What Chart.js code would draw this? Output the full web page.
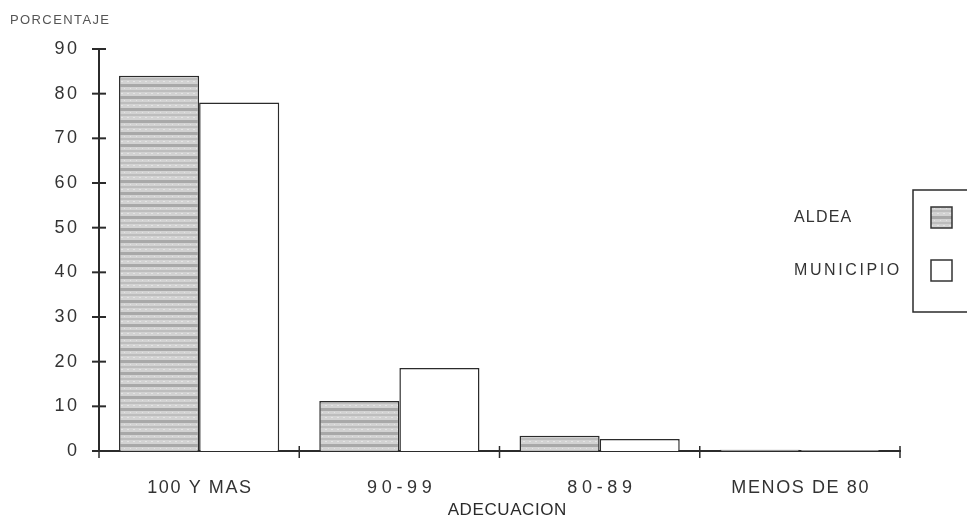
<!DOCTYPE html>
<html><head><meta charset="utf-8">
<script src="https://cdn.jsdelivr.net/npm/chart.js@4"></script>
<style>html,body{margin:0;padding:0;background:#fff}#wrap{width:967px;height:519px;position:relative}</style>
</head><body><div id="wrap"><canvas id="c" width="967" height="519"></canvas></div>
<script>
const categories = ["100 Y MAS", "90-99", "80-89", "MENOS DE 80"];
const aldea = [84, 11.2, 3.4, 0.3];
const municipio = [78, 18.6, 2.7, 0.2];
const seriesNames = ["ALDEA", "MUNICIPIO"];
const yTicks = [0, 10, 20, 30, 40, 50, 60, 70, 80, 90];
const yTitle = "PORCENTAJE";
const xTitle = "ADECUACION";

function stripePattern(){
  const p = document.createElement('canvas'); p.width = 6; p.height = 12;
  const g = p.getContext('2d');
  g.fillStyle = '#d2d2d2'; g.fillRect(0,0,6,12);
  g.fillStyle = '#a8a8a8'; g.fillRect(0,0,6,3);
  g.fillStyle = '#bdbdbd'; g.fillRect(0,6,6,2);
  g.fillStyle = '#e4e4e4'; g.fillRect(1,9,2,1); g.fillRect(4,4,1,1);
  return document.getElementById('c').getContext('2d').createPattern(p,'repeat');
}
const pat = stripePattern();
const FONT = "'Liberation Sans', Arial, sans-serif";
const INK = '#2b2b2b';

function spacedText(ctx, txt, x, y, ls, align){
  ctx.letterSpacing = ls + 'px';
  ctx.textAlign = align;
  let dx = 0;
  if (align === 'center') dx = ls / 2;
  else if (align === 'right') dx = ls;
  ctx.fillText(txt, x + dx, y);
  ctx.letterSpacing = '0px';
}

const decorations = {
  id: 'decorations',
  afterDraw(chart){
    const ctx = chart.ctx, y = chart.scales.y, x = chart.scales.x;
    ctx.save();
    ctx.strokeStyle = INK; ctx.lineWidth = 2;
    // y tick marks crossing the axis + labels
    ctx.fillStyle = '#333'; ctx.font = "18px " + FONT; ctx.textBaseline = 'middle';
    yTicks.forEach(v => {
      const py = y.getPixelForValue(v);
      ctx.beginPath(); ctx.moveTo(y.right - 7, py); ctx.lineTo(y.right + 7, py); ctx.stroke();
      spacedText(ctx, String(v), 77, py, 2.5, 'right');
    });
    // x ticks at category boundaries
    ctx.lineWidth = 1.5;
    for (let i = 0; i <= categories.length; i++){
      const px = x.left + (x.right - x.left) * i / categories.length;
      ctx.beginPath(); ctx.moveTo(px, x.top - 5); ctx.lineTo(px, x.top + 7); ctx.stroke();
    }
    // x category labels
    ctx.font = "18px " + FONT; ctx.fillStyle = '#333';
    categories.forEach((c, i) => {
      const px = x.getPixelForTick(i);
      const ls = /^[0-9\- ]+$/.test(c) ? 4.7 : 1.6;
      spacedText(ctx, c, px, 488, ls, 'center');
    });
    // titles
    ctx.fillStyle = '#555'; ctx.font = "13px " + FONT;
    spacedText(ctx, yTitle, 10, 20, 1.4, 'left');
    ctx.fillStyle = INK; ctx.font = "17px " + FONT;
    spacedText(ctx, xTitle, 507, 510, 0.6, 'center');
    // legend
    ctx.strokeStyle = INK; ctx.lineWidth = 1.5;
    ctx.beginPath(); ctx.moveTo(975, 190); ctx.lineTo(913, 190); ctx.lineTo(913, 312); ctx.lineTo(975, 312); ctx.stroke();
    const fills = [pat, '#ffffff'];
    const rows = [218, 271];
    ctx.font = "16px " + FONT;
    chart.data.datasets.forEach((ds, i) => {
      ctx.fillStyle = '#333';
      spacedText(ctx, ds.label, 794, rows[i], i === 0 ? 1.2 : 2.6, 'left');
      ctx.fillStyle = fills[i]; ctx.fillRect(931, rows[i]-11, 21, 21);
      ctx.lineWidth = 1.5; ctx.strokeStyle = '#333'; ctx.strokeRect(931, rows[i]-11, 21, 21);
    });
    ctx.restore();
  }
};

new Chart(document.getElementById('c'), {
  type: 'bar',
  data: {
    labels: categories,
    datasets: [
      {label: seriesNames[0], data: aldea, backgroundColor: pat, borderColor: INK, borderWidth: 1.5, borderSkipped: 'bottom'},
      {label: seriesNames[1], data: municipio, backgroundColor: '#ffffff', borderColor: INK, borderWidth: 1.5, borderSkipped: 'bottom'}
    ]
  },
  options: {
    responsive: false, animation: false, devicePixelRatio: 1,
    layout: {padding: {left: 0, right: 67, top: 49, bottom: 0}},
    plugins: {legend: {display: false}, tooltip: {enabled: false}, title: {display: false}},
    datasets: {bar: {categoryPercentage: 0.8, barPercentage: 1.0}},
    scales: {
      x: {
        grid: {display: false},
        border: {display: true, color: INK, width: 2},
        ticks: {display: false},
        afterFit(s){ s.height = 68; }
      },
      y: {
        min: 0, max: 90,
        afterBuildTicks(s){ s.ticks = yTicks.map(v => ({value: v})); },
        grid: {display: false, drawTicks: false},
        border: {display: true, color: INK, width: 2},
        ticks: {display: false},
        afterFit(s){ s.width = 99; }
      }
    }
  },
  plugins: [decorations]
});
</script></body></html>
